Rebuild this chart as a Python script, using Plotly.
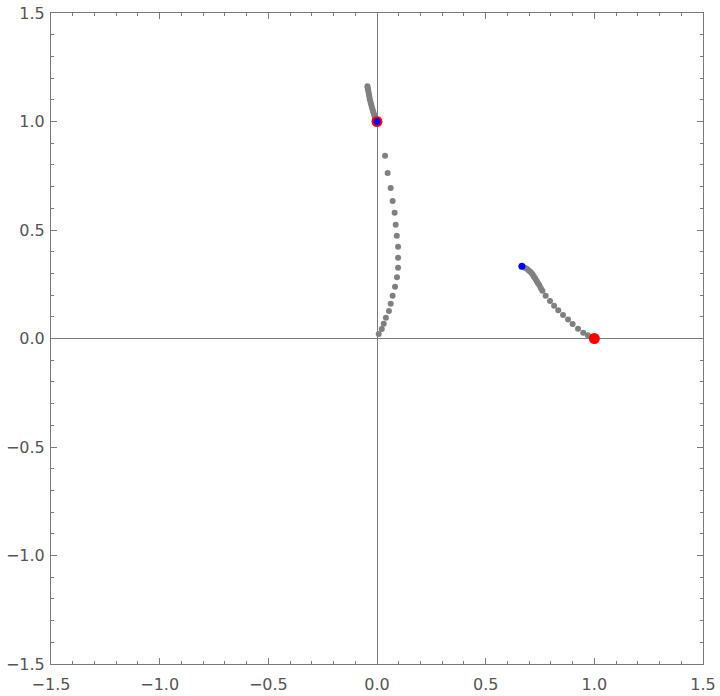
import plotly.graph_objects as go

# upper trail near (0, 1)
top_x = [-0.044, -0.043, -0.041, -0.039, -0.037, -0.035, -0.033, -0.030, -0.027,
         -0.024, -0.021, -0.018, -0.015, -0.012, -0.009, -0.006, -0.003]
top_y = [1.162, 1.155, 1.146, 1.136, 1.125, 1.114, 1.102, 1.090, 1.079,
         1.068, 1.057, 1.047, 1.037, 1.028, 1.019, 1.011, 1.004]

# middle arc
mid_x = [0.037, 0.049, 0.063, 0.072, 0.081, 0.086, 0.091, 0.097, 0.097, 0.097,
         0.092, 0.083, 0.072, 0.063, 0.055, 0.041, 0.031, 0.022, 0.008]
mid_y = [0.842, 0.763, 0.694, 0.634, 0.580, 0.524, 0.474, 0.423, 0.372, 0.326,
         0.282, 0.239, 0.197, 0.160, 0.127, 0.096, 0.068, 0.044, 0.021]

# right trail from (2/3, 1/3) toward (1, 0)
right_x = [0.672, 0.680, 0.689, 0.697, 0.704, 0.711, 0.717, 0.722, 0.728, 0.734,
           0.740, 0.747, 0.754, 0.761, 0.776, 0.796, 0.815, 0.834, 0.856, 0.879,
           0.900, 0.925, 0.949, 0.970, 0.988]
right_y = [0.330, 0.326, 0.321, 0.315, 0.309, 0.302, 0.294, 0.285, 0.276, 0.266,
           0.256, 0.245, 0.232, 0.220, 0.197, 0.173, 0.151, 0.130, 0.108, 0.087,
           0.067, 0.045, 0.027, 0.015, 0.006]

red_x = [0.0, 1.0]
red_y = [1.0, 0.0]
blue_x = [0.0, 2 / 3]
blue_y = [1.0, 1 / 3]

tick_vals = [-1.5, -1.0, -0.5, 0.0, 0.5, 1.0, 1.5]
tick_text = ["\u22121.5", "\u22121.0", "\u22120.5", "0.0", "0.5", "1.0", "1.5"]

fig = go.Figure()
gray = dict(color="#808080", size=6)
for xs, ys in [(top_x, top_y), (mid_x, mid_y), (right_x, right_y)]:
    fig.add_trace(go.Scatter(x=xs, y=ys, mode="markers", marker=gray, hoverinfo="skip"))
fig.add_trace(go.Scatter(x=red_x, y=red_y, mode="markers",
                         marker=dict(color="#ff0000", size=11)))
fig.add_trace(go.Scatter(x=blue_x, y=blue_y, mode="markers",
                         marker=dict(color="#0000ff", size=7)))

axis_common = dict(
    range=[-1.5, 1.5], tickvals=tick_vals, ticktext=tick_text,
    showgrid=False, zeroline=True, zerolinecolor="#7a7a7a", zerolinewidth=1,
    showline=True, linecolor="#7a7a7a", linewidth=1, mirror="ticks",
    ticks="inside", ticklen=6, tickcolor="#7a7a7a", tickwidth=1,
    minor=dict(ticks="inside", dtick=0.1, ticklen=3, tickcolor="#7a7a7a", tickwidth=1),
    tickfont=dict(family="DejaVu Sans", size=16, color="#555555"),
    automargin=False,
)

fig.update_layout(
    width=720, height=696,
    margin=dict(l=51, r=17, t=13, b=32, autoexpand=False),
    paper_bgcolor="white", plot_bgcolor="white",
    showlegend=False,
    xaxis=dict(**axis_common, ticklabelstandoff=6),
    yaxis=dict(**axis_common, ticklabelstandoff=2),
)

fig.write_html("out.html")
